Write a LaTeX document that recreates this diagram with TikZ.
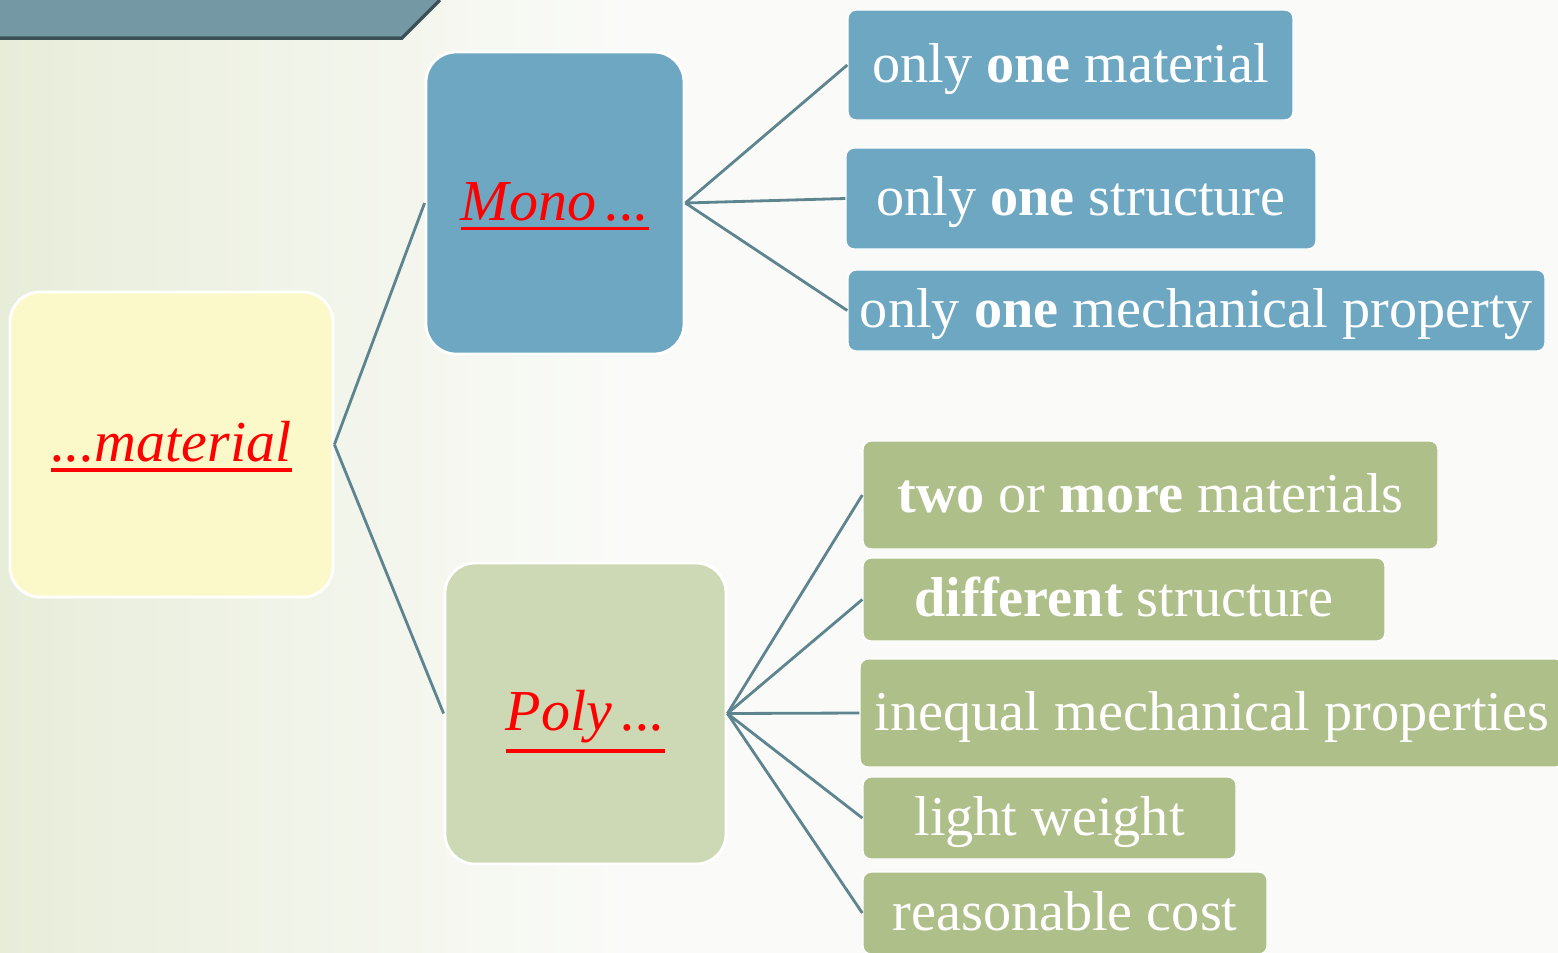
\documentclass[tikz,border=0pt]{standalone}
\usepackage{fontspec}
\setmainfont{Liberation Serif}
\usepackage{tikz}

\definecolor{bgleft}{HTML}{E8EDDA}
\definecolor{bgright}{HTML}{FAFBF8}
\definecolor{banner}{HTML}{7599A4}
\definecolor{bannerrim}{HTML}{3C5157}
\definecolor{matfill}{HTML}{FBF9C9}
\definecolor{monofill}{HTML}{6EA7C2}
\definecolor{polyfill}{HTML}{CDD9B4}
\definecolor{greenfill}{HTML}{AEBF8A}
\definecolor{linkcol}{HTML}{5E858F}
\definecolor{headred}{HTML}{FF0000}

\pgfdeclarehorizontalshading{bgfade}{100bp}{color(0bp)=(bgleft); color(25bp)=(bgleft); color(45bp)=(bgright); color(100bp)=(bgright)}

% red underlined heading text
\newcommand{\headul}[1]{{\color{headred}\vtop{\hbox{#1}\kern1.6pt\hrule height 1.1pt}}}

\tikzset{
  bigbox/.style={shape=rectangle,draw=white,line width=0.8pt,rounded corners=0.3cm,
    inner sep=0pt,text height=11.5pt,text depth=1.8pt,text=headred,
    font=\fontsize{16.5}{20}\selectfont\itshape},
  bluebox/.style={shape=rectangle,draw=white,line width=0.4pt,rounded corners=0.08cm,
    fill=monofill,inner sep=0pt,text height=11.5pt,text depth=1.6pt,text=white,
    font=\fontsize{16}{19}\selectfont},
  greenbox/.style={bluebox,fill=greenfill},
  link/.style={-, thick, draw=linkcol}
}

\begin{document}
\begin{tikzpicture}

	% background and banner
	\useasboundingbox (0,0) rectangle (15.58,-9.52);
	\begin{scope}
	\clip (0,0) rectangle (15.58,-9.52);
	\shade[shading=bgfade] (0,0) rectangle (15.58,-9.52);
	\fill[banner] (0,0) -- (4.40,0) -- (4.02,-0.38) -- (0,-0.38) -- cycle;
	\draw[bannerrim, line width=1pt] (0,-0.38) -- (4.02,-0.38) -- (4.40,0);

	\node[bigbox,fill=matfill,minimum width=3.23cm,minimum height=3.05cm] (material) at (1.715,-4.445) {\headul{...material}};
	\node[bigbox,fill=monofill,minimum width=2.58cm,minimum height=3.02cm] (mono) at (5.55,-2.03) {\headul{Mono\,...}};
	\node[bigbox,fill=polyfill,minimum width=2.81cm,minimum height=3.01cm] (poly) at (5.855,-7.135) {\headul{Poly\,...}};

	\node[bluebox,minimum width=4.45cm,minimum height=1.10cm] (onemat) at (10.705,-0.65) {only \textbf{one} material};
	\node[bluebox,minimum width=4.70cm,minimum height=1.01cm] (onestruct) at (10.81,-1.985) {only \textbf{one} structure};
	\node[bluebox,minimum width=6.97cm,minimum height=0.81cm] (oneprop) at (11.965,-3.105) {only \textbf{one} mechanical property};

	\node[greenbox,minimum width=5.75cm,minimum height=1.08cm] (twomat) at (11.505,-4.95) {\textbf{two} or \textbf{more} materials};
	\node[greenbox,minimum width=5.22cm,minimum height=0.83cm] (diffstruct) at (11.24,-5.995) {\textbf{different} structure};
	\node[greenbox,minimum width=7.04cm,minimum height=1.08cm] (ineqprop) at (12.12,-7.13) {inequal mechanical properties};
	\node[greenbox,minimum width=3.73cm,minimum height=0.82cm] (light) at (10.495,-8.18) {light weight};
	\node[greenbox,minimum width=4.04cm,minimum height=0.82cm] (cost) at (10.65,-9.13) {reasonable cost};

	\path[link] (material.east) edge (mono.west);
	\path[link] (material.east) edge (poly.west);

	\path[link] (mono.east) edge (onemat.west);
	\path[link] (mono.east) edge (onestruct.west);
	\path[link] (mono.east) edge (oneprop.west);

	\path[link] (poly.east) edge (twomat.west);
	\path[link] (poly.east) edge (diffstruct.west);
	\path[link] (poly.east) edge (ineqprop.west);
	\path[link] (poly.east) edge (light.west);
	\path[link] (poly.east) edge (cost.west);
	\end{scope}

\end{tikzpicture}
\end{document}
